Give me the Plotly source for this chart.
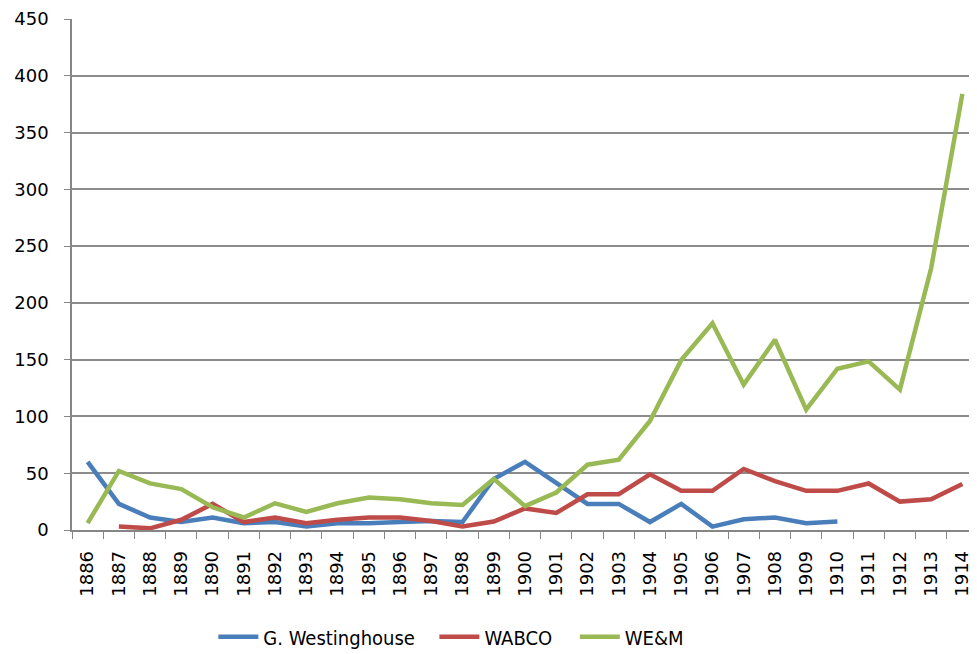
import plotly.graph_objects as go

years = [str(y) for y in range(1886, 1915)]
westinghouse = [60, 23, 11, 7, 11, 6, 7, 3, 6, 6, 7, 8, 7, 45, 60, 41, 23, 23, 7, 23, 3, 9.5, 11, 6, 7.5,
                None, None, None, None]
wabco = [None, 3, 1.5, 9, 23, 7, 11, 6, 9, 11, 11, 8, 3, 7.5, 19, 15, 31.5, 31.5, 49, 34.5, 34.5, 53.7, 43, 34.5, 34.5,
         41, 25, 27, 40.5]
wem = [6, 52, 41, 36, 20, 11, 23.5, 16, 23.5, 28.6, 27, 23.5, 22, 45, 21, 33, 57.5, 62, 96, 149.6, 182, 128, 167.5,
       106, 142, 148.5, 123.6, 230.5, 384]

names = ["G. Westinghouse", "WABCO", "WE&M"]
colors = ["#4A7EBB", "#BE4B48", "#98B954"]
series = [westinghouse, wabco, wem]
legend_ids = ["legend", "legend2", "legend3"]
legend_x = [0.156, 0.40, 0.555]

FONT = "DejaVu Sans, sans-serif"
LEGFONT = "DejaVu Sans Condensed, Liberation Sans, sans-serif"

fig = go.Figure()
for n, c, s, lid in zip(names, colors, series, legend_ids):
    fig.add_trace(go.Scatter(x=years, y=s, name=n, mode="lines", legend=lid,
                             line=dict(color=c, width=4.5), connectgaps=False))

legend_common = dict(orientation="h", xanchor="left", y=-0.2066, yanchor="middle",
                     font=dict(family=LEGFONT, size=20), itemwidth=40, bgcolor="rgba(0,0,0,0)")

fig.update_layout(
    width=977, height=654,
    margin=dict(l=64, r=7, t=11, b=131),
    paper_bgcolor="white", plot_bgcolor="white",
    font=dict(family=FONT, size=18, color="black"),
    showlegend=True,
    legend=dict(x=legend_x[0], **legend_common),
    legend2=dict(x=legend_x[1], **legend_common),
    legend3=dict(x=legend_x[2], **legend_common),
    xaxis=dict(type="category", range=[-0.5, 28.5], tickangle=-90, automargin=False,
               tickson="boundaries", ticks="outside", ticklen=7, tickcolor="#868686",
               showline=True, linecolor="#868686", linewidth=1.5, showgrid=False,
               ticklabelstandoff=12, tickfont=dict(size=18)),
    yaxis=dict(range=[0, 450], dtick=50, ticks="outside", ticklen=6, tickcolor="#868686",
               showline=True, linecolor="#868686", linewidth=1.5, automargin=False,
               showgrid=True, gridcolor="#8C8C8C", gridwidth=1.5, zeroline=False,
               ticklabeloverflow="allow", ticklabelstandoff=12, tickfont=dict(size=18)),
)

fig.write_html("out.html")
